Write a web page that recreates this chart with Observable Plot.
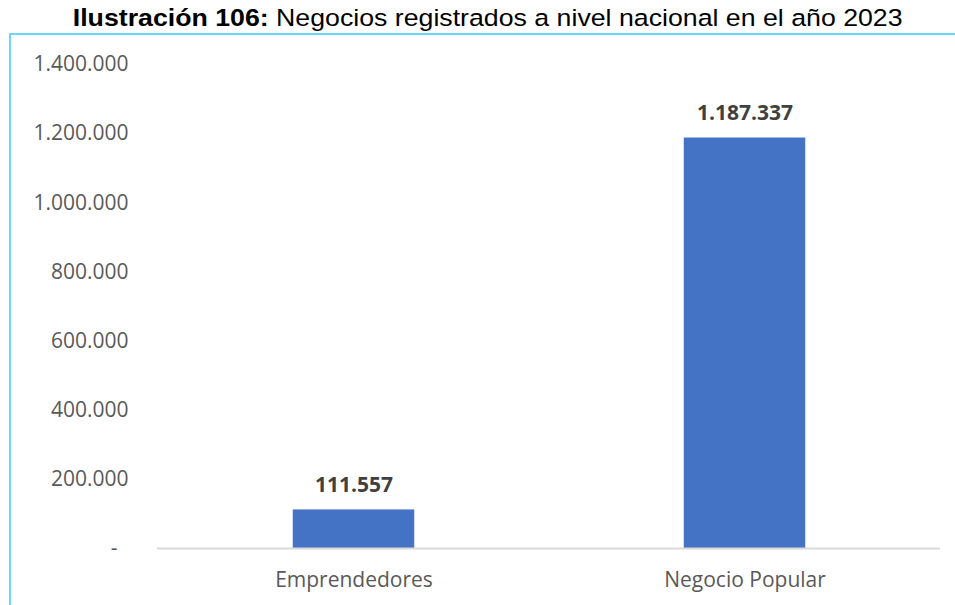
<!DOCTYPE html>
<html>
<head>
<meta charset="utf-8">
<script src="https://cdn.jsdelivr.net/npm/d3@7"></script>
<script src="https://cdn.jsdelivr.net/npm/@observablehq/plot@0.6"></script>
<style>
  html, body { margin: 0; padding: 0; background: #fff; }
  #wrap { position: relative; width: 955px; height: 605px; overflow: hidden; }
  #title { position: absolute; left: 0; top: 0; width: 975px; text-align: center;
           font-family: "Liberation Sans", Arial, sans-serif; font-size: 24.5px; color: #000;
           line-height: 36px; white-space: nowrap; }
  #title span { display: inline-block; transform: scaleX(1.09); transform-origin: center; }
  #box { position: absolute; left: 9px; top: 33px; width: 946px; height: 572px;
         border-top: 2px solid #6fd3fb; border-left: 2px solid #6fd3fb; box-sizing: border-box; }
  #chart { position: absolute; left: 0; top: 0; }
</style>
</head>
<body>
<div id="wrap">
  <div id="title"><span><b>Ilustración 106:</b> Negocios registrados a nivel nacional en el año 2023</span></div>
  <div id="box"><div id="chart"></div></div>
</div>
<script>
const categories = ["Emprendedores", "Negocio Popular"];
const values = [111557, 1187337];
const valueLabels = ["111.557", "1.187.337"];
const yTicks = [0, 200000, 400000, 600000, 800000, 1000000, 1200000, 1400000];

const data = categories.map((c, i) => ({category: c, value: values[i], label: valueLabels[i]}));
const fmt = d => d === 0 ? "-\u00a0\u00a0" : d3.format(",")(d).replace(/,/g, ".");

const chart = Plot.plot({
  width: 944,
  height: 570,
  marginTop: 29,
  marginBottom: 57,
  marginLeft: 146,
  marginRight: 15,
  style: {fontFamily: "'Open Sans', sans-serif", fontSize: "21px", color: "#595959", background: "transparent"},
  x: {domain: categories, padding: 0, label: null, tickSize: 0, tickPadding: 24},
  y: {domain: [0, 1400000], ticks: yTicks, tickFormat: fmt, label: null, tickSize: 0, tickPadding: 29},
  marks: [
    Plot.barY(data, {x: "category", y: "value", fill: "#4472c4", insetLeft: 134.75, insetRight: 134.75}),
    Plot.ruleY([0], {stroke: "#d9d9d9", strokeWidth: 2}),
    Plot.text(data, {x: "category", y: "value", text: "label", dy: -18, lineAnchor: "bottom",
      fontWeight: "bold", fill: "#404040", fontSize: 21})
  ]
});
document.getElementById("chart").appendChild(chart);
</script>
</body>
</html>
